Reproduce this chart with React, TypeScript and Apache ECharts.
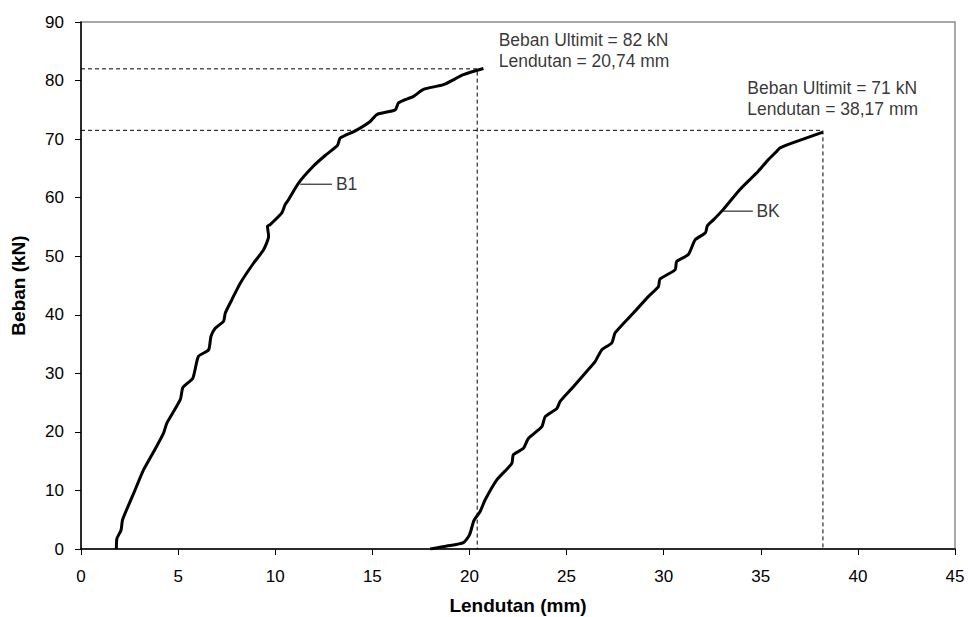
import React, { useEffect, useRef } from "react";
import * as echarts from "echarts";

const b1X = [1.82, 1.85, 2.06, 2.14, 2.71, 3.22, 3.74, 4.25, 4.42, 5.11, 5.23, 5.37, 5.76, 6.05, 6.57, 6.69, 6.91, 7.34, 7.43, 7.77, 8.2, 8.88, 9.4, 9.66, 9.6, 9.74, 10.34, 10.51, 10.69, 11.2, 11.97, 12.57, 13.2, 13.35, 14.12, 14.89, 15.23, 16.18, 16.35, 17.12, 17.63, 18.66, 19.69, 20.72];
const b1Y = [0, 1.8, 3.2, 5.0, 9.5, 13.5, 16.6, 19.8, 21.5, 25.5, 27.5, 28.0, 29.2, 32.9, 34.0, 36.3, 37.7, 38.9, 40.3, 42.6, 45.4, 48.8, 51.1, 53.4, 55.1, 55.4, 57.4, 58.8, 59.7, 62.5, 65.4, 67.2, 68.9, 70.2, 71.4, 73.0, 74.2, 75.0, 76.2, 77.3, 78.5, 79.3, 81.0, 82.05];

const bkX = [17.98, 18.84, 19.69, 20.0, 20.21, 20.29, 20.55, 20.81, 21.41, 22.18, 22.26, 22.78, 23.04, 23.73, 23.9, 24.5, 24.67, 25.35, 26.0, 26.47, 26.81, 27.33, 27.5, 28.44, 29.21, 29.73, 29.81, 30.59, 30.67, 31.27, 31.62, 32.15, 32.25, 32.56, 33.07, 33.93, 34.87, 35.39, 35.82, 35.99, 36.67, 38.2];
const bkY = [0, 0.5, 1.1, 2.4, 4.7, 5.2, 6.4, 8.4, 11.8, 14.6, 16.1, 17.2, 18.9, 20.9, 22.6, 24.0, 25.2, 27.7, 30.2, 32.0, 34.0, 35.2, 36.9, 40.3, 43.1, 44.8, 46.1, 47.7, 49.1, 50.3, 52.8, 54.0, 55.2, 56.2, 58.0, 61.4, 64.5, 66.5, 67.9, 68.5, 69.4, 71.2];

const xTicks = { min: 0, max: 45, interval: 5 };
const yTicks = { min: 0, max: 90, interval: 10 };

const ultB1 = { load: 82, defl: 20.4 };
const ultBK = { load: 71.5, defl: 38.2 };

const noteB1 = { x: 21.48, y: 85.2, text: "Beban Ultimit = 82 kN\nLendutan = 20,74 mm" };
const noteBK = { x: 34.28, y: 77.0, text: "Beban Ultimit = 71 kN\nLendutan = 38,17 mm" };

const leaderB1 = { x0: 11.29, x1: 12.92, y: 62.3, tx: 13.1, text: "B1" };
const leaderBK = { x0: 33.07, x1: 34.59, y: 57.7, tx: 34.75, text: "BK" };

const FONT = "'Liberation Sans', Arial, sans-serif";

function zip(xs: number[], ys: number[]) {
  return xs.map((x, i) => [x, ys[i]]);
}

export default function App() {
  const ref = useRef<HTMLDivElement>(null);
  useEffect(() => {
    if (!ref.current) return;
    const chart = echarts.init(ref.current, null, { renderer: "svg" });
    const dashed = { color: "#000", width: 1, type: [4, 3] as any };
    const textSeries = (x: number, y: number, text: string) => ({
      type: "scatter",
      data: [[x, y]],
      symbolSize: 1,
      itemStyle: { color: "rgba(0,0,0,0)" },
      silent: true,
      z: 5,
      label: {
        show: true,
        position: "right",
        distance: 0,
        formatter: text,
        color: "#000",
        fontFamily: FONT,
        fontSize: 17.5,
        lineHeight: 21,
        align: "left",
        verticalAlign: "middle",
      },
    });
    chart.setOption({
      animation: false,
      backgroundColor: "#fff",
      grid: {
        left: 81,
        right: 13,
        top: 22,
        bottom: 68,
        containLabel: false,
        outerBoundsMode: "none",
        show: true,
        borderColor: "#8c8c8c",
        borderWidth: 1.5,
      },
      xAxis: {
        type: "value",
        ...xTicks,
        name: "Lendutan (mm)",
        nameLocation: "middle",
        nameGap: 47,
        nameTextStyle: { fontFamily: FONT, fontSize: 19, fontWeight: "bold", color: "#000" },
        axisLine: { show: true, lineStyle: { color: "#000", width: 1.5 } },
        axisTick: { show: true, length: 6, lineStyle: { color: "#000", width: 1 } },
        axisLabel: { fontFamily: FONT, fontSize: 17, color: "#000", margin: 19 },
        splitLine: { show: false },
      },
      yAxis: {
        type: "value",
        ...yTicks,
        name: "Beban (kN)",
        nameLocation: "middle",
        nameGap: 53,
        nameTextStyle: { fontFamily: FONT, fontSize: 19, fontWeight: "bold", color: "#000" },
        axisLine: { show: true, lineStyle: { color: "#000", width: 1.5 } },
        axisTick: { show: true, length: 6, lineStyle: { color: "#000", width: 1 } },
        axisLabel: { fontFamily: FONT, fontSize: 17, color: "#000", margin: 17 },
        splitLine: { show: false },
      },
      series: [
        {
          type: "line",
          data: [[0, ultB1.load], [ultB1.defl, ultB1.load], [ultB1.defl, 0]],
          symbol: "none",
          lineStyle: dashed,
          silent: true,
          z: 1,
        },
        {
          type: "line",
          data: [[0, ultBK.load], [ultBK.defl, ultBK.load], [ultBK.defl, 0]],
          symbol: "none",
          lineStyle: dashed,
          silent: true,
          z: 1,
        },
        {
          type: "line",
          name: "B1",
          data: zip(b1X, b1Y),
          symbol: "none",
          smooth: 0.2,
          lineStyle: { color: "#000", width: 3 },
          z: 3,
        },
        {
          type: "line",
          name: "BK",
          data: zip(bkX, bkY),
          symbol: "none",
          smooth: 0.2,
          lineStyle: { color: "#000", width: 3 },
          z: 3,
        },
        {
          type: "line",
          data: [[leaderB1.x0, leaderB1.y], [leaderB1.x1, leaderB1.y]],
          symbol: "none",
          lineStyle: { color: "#000", width: 1 },
          silent: true,
        },
        {
          type: "line",
          data: [[leaderBK.x0, leaderBK.y], [leaderBK.x1, leaderBK.y]],
          symbol: "none",
          lineStyle: { color: "#000", width: 1 },
          silent: true,
        },
        textSeries(leaderB1.tx, leaderB1.y, leaderB1.text),
        textSeries(leaderBK.tx, leaderBK.y, leaderBK.text),
        textSeries(noteB1.x, noteB1.y, noteB1.text),
        textSeries(noteBK.x, noteBK.y, noteBK.text),
      ],
    });
    return () => chart.dispose();
  }, []);
  return (
    <div
      ref={ref}
      style={{ position: "absolute", left: 0, top: 0, width: 968, height: 617 }}
    />
  );
}
